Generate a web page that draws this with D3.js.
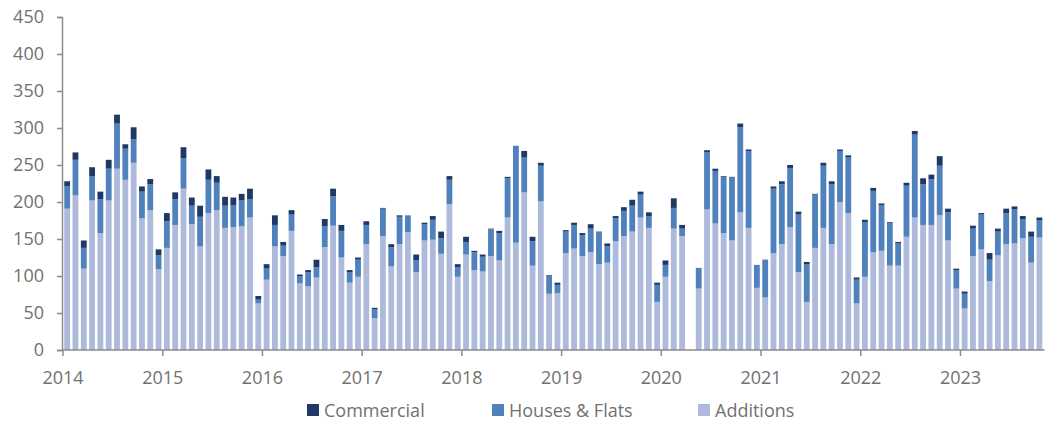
<!DOCTYPE html>
<html lang="en">
<head>
<meta charset="utf-8">
<title>Monthly consents</title>
<script src="https://cdn.jsdelivr.net/npm/d3@7"></script>
<style>
  body { margin: 0; background: #fff; }
  text { font-family: "Open Sans", "Noto Sans", sans-serif; fill: #717171; }
</style>
</head>
<body>
<svg id="chart" width="1051" height="421"></svg>
<script>
// Jan 2014 .. Oct 2023, one value per month
var years = ["2014","2015","2016","2017","2018","2019","2020","2021","2022","2023"];
var yTicks = [0,50,100,150,200,250,300,350,400,450];
var seriesNames = ["Additions","Houses & Flats","Commercial"];

var additions = [
  191,209,110,202,158,202,245,230,253,178,189,109,
  138,169,218,170,140,185,189,165,166,167,179,63,
  95,140,127,161,90,86,98,139,168,125,91,99,
  143,43,154,113,143,159,105,148,149,130,197,99,
  129,108,106,127,121,179,145,213,114,201,76,77,
  131,137,127,132,116,118,147,154,160,179,165,65,
  99,164,154,0,83,190,171,158,148,186,165,84,
  71,131,143,166,105,65,138,165,143,200,185,63,
  99,132,134,114,114,153,179,169,169,182,148,83,
  56,127,136,93,128,143,144,151,118,152
];
var housesFlats = [
  30,48,28,33,46,43,61,42,32,36,35,19,
  36,35,41,25,40,45,37,30,30,35,25,5,
  15,29,14,22,10,19,14,28,40,36,14,23,
  26,12,37,26,37,23,16,22,27,21,33,13,
  17,24,20,36,37,53,131,47,33,48,24,11,
  29,32,28,32,43,22,31,34,35,31,16,23,
  16,28,10,0,28,77,71,76,85,115,104,31,
  50,87,81,80,78,51,72,84,81,69,75,32,
  74,83,62,58,30,69,112,55,62,67,38,25,
  20,37,47,29,32,42,46,26,35,23
];
var commercial = [
  7,10,10,12,10,12,12,6,16,7,7,8,
  11,9,15,11,15,14,9,12,10,9,14,5,
  6,13,5,6,2,3,10,10,10,8,3,3,
  5,2,1,4,2,0,8,2,5,9,5,4,
  7,2,3,1,3,2,0,9,6,4,1,3,
  2,3,3,6,1,4,3,5,8,4,5,3,
  6,13,5,0,0,3,3,1,1,5,2,0,
  1,3,4,4,4,3,1,4,4,2,3,3,
  3,4,2,1,2,4,5,8,6,13,5,2,
  3,4,2,9,4,6,4,4,7,4
];

var colors = { "Additions": "#adbadb", "Houses & Flats": "#4f81bd", "Commercial": "#1f3864" };

var rows = additions.map(function(a, i) {
  return { idx: i, "Additions": a, "Houses & Flats": housesFlats[i], "Commercial": commercial[i] };
});

var svg = d3.select("#chart");
var left = 63, monthW = 8.31, h = 421;

var x = d3.scaleBand()
  .domain(rows.map(function(d) { return d.idx; }))
  .range([left, left + rows.length * monthW])
  .paddingInner(0.3)
  .paddingOuter(0.15);

var y = d3.scaleLinear()
  .domain([0, 450])
  .range([350, 17]);

var layers = d3.stack().keys(seriesNames)(rows);

svg.append("g")
  .selectAll("g")
  .data(layers)
  .join("g")
  .attr("fill", function(d) { return colors[d.key]; })
  .selectAll("rect")
  .data(function(d) { return d; })
  .join("rect")
  .attr("x", function(d) { return x(d.data.idx); })
  .attr("width", x.bandwidth())
  .attr("y", function(d) { return y(d[1]); })
  .attr("height", function(d) { return Math.max(0, y(d[0]) - y(d[1])); });

// y axis
var yAxis = svg.append("g")
  .attr("transform", "translate(" + (left - 1) + ",0)")
  .call(d3.axisLeft(y).tickValues(yTicks).tickSize(5).tickPadding(13));
yAxis.select(".domain").attr("stroke", "#8c8c8c").attr("stroke-width", 1.5);
yAxis.selectAll(".tick line").attr("stroke", "#8c8c8c").attr("stroke-width", 1.5);
yAxis.selectAll("text").style("font-size", "18px").attr("fill", "#717171")
  .attr("font-family", "Open Sans");

// x axis: year ticks at the start of each January band
var step = x.step();
var xAxis = svg.append("g")
  .attr("transform", "translate(0," + y(0) + ")");
xAxis.append("line")
  .attr("x1", left - 1).attr("x2", left + rows.length * step + 1)
  .attr("stroke", "#8c8c8c").attr("stroke-width", 1.5);
var yt = xAxis.selectAll("g.year")
  .data(years)
  .join("g")
  .attr("class", "year")
  .attr("transform", function(d, i) { return "translate(" + (left + i * 12 * step) + ",0)"; });
yt.append("line").attr("y2", 6).attr("stroke", "#8c8c8c").attr("stroke-width", 1.5);
yt.append("text")
  .attr("y", 34)
  .attr("text-anchor", "middle")
  .style("font-size", "18px")
  .text(function(d) { return d; });

// legend
var legendItems = [
  { key: "Commercial", x: 307 },
  { key: "Houses & Flats", x: 492 },
  { key: "Additions", x: 698 }
];
var lg = svg.append("g").selectAll("g")
  .data(legendItems)
  .join("g")
  .attr("transform", function(d) { return "translate(" + d.x + ",404)"; });
lg.append("rect").attr("width", 12).attr("height", 12)
  .attr("fill", function(d) { return colors[d.key]; });
lg.append("text").attr("x", 17).attr("y", 12.5)
  .style("font-size", "18px")
  .text(function(d) { return d.key; });
</script>
</body>
</html>
